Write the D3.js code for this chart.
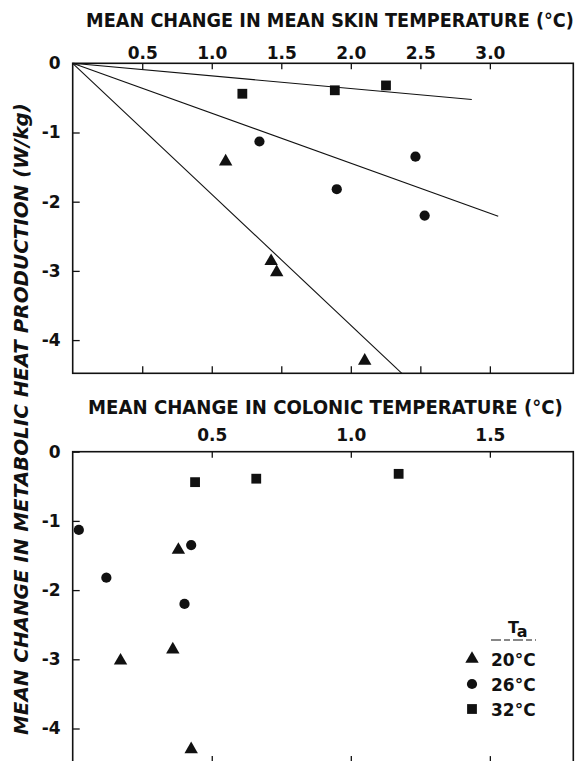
<!DOCTYPE html>
<meta charset="utf-8">
<style>
body { margin: 0; background: #fff; }
text { font-family: "DejaVu Sans", sans-serif; font-weight: bold; fill: #111; }
.axis text { font-size: 17px; }
.axis line { stroke: #111; stroke-width: 1.3px; }
.frame { fill: none; stroke: #111; stroke-width: 1.6px; }
.fit { stroke: #111; stroke-width: 1.1px; fill: none; }
</style>
<svg width="577" height="761" id="chart"></svg>
<script src="https://cdn.jsdelivr.net/npm/d3@7"></script>
<script>

// change in heat production (W/kg), same runs in both panels
var groups = ["20°C", "26°C", "32°C"];
var heat20 = [-1.42, -2.86, -3.02, -4.30];
var heat26 = [-1.13, -1.35, -1.82, -2.20];
var heat32 = [-0.44, -0.39, -0.32];

var skin20 = [1.10, 1.427, 1.467, 2.10];
var skin26 = [1.343, 2.465, 1.899, 2.531];
var skin32 = [1.22, 1.885, 2.253];

var colonic20 = [0.38, 0.36, 0.172, 0.426];
var colonic26 = [0.022, 0.426, 0.121, 0.402];
var colonic32 = [0.44, 0.66, 1.172];

// fitted lines through the origin, skin panel (20, 26, 32)
var fitEndX = [2.367, 3.06, 2.87];
var fitEndY = [-4.48, -2.21, -0.523];

var skinTicks = [0.5, 1.0, 1.5, 2.0, 2.5, 3.0];
var colonicTicks = [0.5, 1.0, 1.5];
var heatTicks = [0, -1, -2, -3, -4];

var symbols = [d3.symbolTriangle, d3.symbolCircle, d3.symbolSquare];
var symSize = [78, 82, 96];

var svg = d3.select("svg#chart");
var left = 72.7, width = 500.6;

// squeeze a text horizontally so it spans exactly len px
function fitText(sel, cx, len) {
  var w = sel.node().getComputedTextLength();
  var base = sel.attr("y");
  sel.attr("x", 0).attr("y", 0)
     .attr("transform", "translate(" + cx + "," + base + ") scale(" + (len / w) + ",1)");
}

function panel(top, height, xMax, yMin, xTicks, labelPad, title, titleY, titleX, titleLen, xs) {
  var x = d3.scaleLinear().domain([0, xMax]).range([0, width]),
      y = d3.scaleLinear().domain([yMin, 0]).range([height, 0]);
  var g = svg.append("g").attr("transform", "translate(" + left + "," + top + ")");

  g.append("g").attr("class", "axis")
      .call(d3.axisTop(x).tickValues(xTicks).tickSize(-6).tickPadding(labelPad)
            .tickFormat(d3.format(".1f")))
      .call(function(a) { a.select(".domain").remove(); });

  g.append("g").attr("class", "axis")
      .attr("transform", "translate(0," + height + ")")
      .call(d3.axisBottom(x).tickValues(xTicks).tickSize(-7).tickFormat(""))
      .call(function(a) { a.select(".domain").remove(); });

  g.append("g").attr("class", "axis")
      .call(d3.axisLeft(y).tickValues(heatTicks).tickSize(-7).tickPadding(12)
            .tickFormat(function(d) { return d === 0 ? "0" : "-" + Math.abs(d); }))
      .call(function(a) { a.select(".domain").remove(); });

  g.append("rect").attr("class", "frame")
      .attr("width", width).attr("height", height);

  var t = svg.append("text")
      .attr("y", titleY)
      .attr("text-anchor", "middle")
      .style("font-size", "19px")
      .text(title);
  fitText(t, titleX, titleLen);

  var heats = [heat20, heat26, heat32];
  xs.forEach(function(xv, i) {
    g.selectAll(".pt" + i)
      .data(xv.map(function(v, j) { return [v, heats[i][j]]; }))
      .enter().append("path")
        .attr("transform", function(d) { return "translate(" + x(d[0]) + "," + y(d[1]) + ")"; })
        .attr("d", d3.symbol().type(symbols[i]).size(symSize[i]))
        .attr("fill", "#111");
  });
  return {g: g, x: x, y: y};
}

var p1 = panel(63.3, 310, 3.6, -4.48, skinTicks, 4,
  "MEAN CHANGE IN MEAN SKIN TEMPERATURE (°C)", 27, 330, 488,
  [skin20, skin26, skin32]);

var line = d3.line().x(function(d) { return p1.x(d[0]); }).y(function(d) { return p1.y(d[1]); });
fitEndX.forEach(function(ex, i) {
  p1.g.append("path").attr("class", "fit")
      .attr("d", line([[0, 0], [ex, fitEndY[i]]]));
});

var p2 = panel(451.7, 311.4, 1.8, -4.5, colonicTicks, 11,
  "MEAN CHANGE IN COLONIC TEMPERATURE (°C)", 414, 325.5, 475,
  [colonic20, colonic26, colonic32]);

// y title
var yt = svg.append("text")
    .attr("y", 0)
    .attr("text-anchor", "middle")
    .style("font-size", "19px")
    .style("font-style", "italic")
    .text("MEAN CHANGE IN METABOLIC HEAT PRODUCTION (W/kg)");
var yw = yt.node().getComputedTextLength();
yt.attr("transform", "translate(28,419) rotate(-90) scale(" + (632 / yw) + ",1)");

// legend
var lg = svg.append("g").attr("transform", "translate(472,0)");
var ta = lg.append("text").attr("x", 36).attr("y", 633).style("font-size", "16px");
ta.append("tspan").text("T");
ta.append("tspan").attr("dy", 4).text("a");
lg.append("line")
    .attr("x1", 19).attr("x2", 64).attr("y1", 640).attr("y2", 640)
    .attr("stroke", "#111").attr("stroke-width", 1.2).attr("stroke-dasharray", "10,3,6,3");
groups.forEach(function(name, i) {
  var cy = 659 + i * 25;
  lg.append("path")
      .attr("transform", "translate(0," + cy + ")")
      .attr("d", d3.symbol().type(symbols[i]).size(symSize[i]))
      .attr("fill", "#111");
  lg.append("text").attr("x", 19).attr("y", cy + 6.5)
      .style("font-size", "17px").text(name);
});

</script>
